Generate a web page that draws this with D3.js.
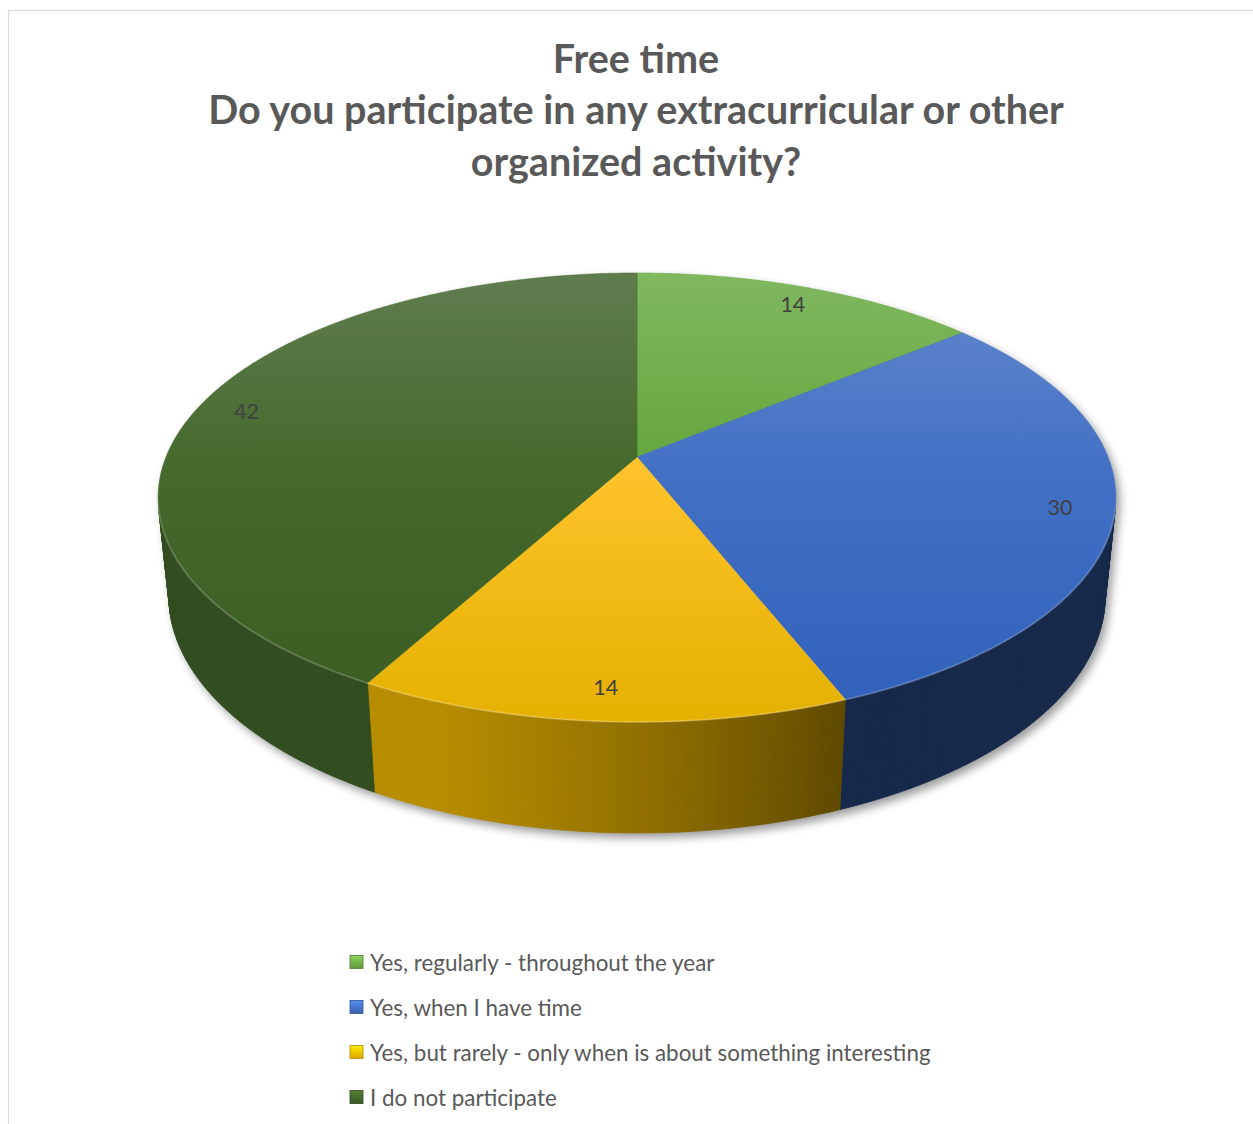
<!DOCTYPE html>
<html>
<head>
<meta charset="utf-8">
<script src="https://cdn.jsdelivr.net/npm/d3@7"></script>
<style>
  body { margin: 0; background: #fff; }
  svg { display: block; }
</style>
</head>
<body>
<script>
// ---- data ----
const titleLines = [
  "Free time",
  "Do you participate in any extracurricular or other",
  "organized activity?"
];
const categories = [
  "Yes, regularly - throughout the year",
  "Yes, when I have time",
  "Yes, but rarely - only when is about something interesting",
  "I do not participate"
];
const values = [14, 30, 14, 42];

// ---- colours (top face gradient, side wall base, legend key) ----
const topLight = ["#80b860", "#6488cc", "#ffd04a", "#607d50"];
const topMid   = ["#64a53b", "#4270c5", "#fdc22a", "#44692b"];
const topDark  = ["#5a9a31", "#3060ba", "#e4b100", "#3a5c21"];
const wallBase = ["#6aa842", "#3a6bc4", "#f5bd00", "#42672a"];
const keyColors = ["#70ad47", "#4472c4", "#ffc000", "#43682b"];

const W = 1253, H = 1124;
const svg = d3.select("body").append("svg").attr("width", W).attr("height", H);
const defs = svg.append("defs");

// chart area frame
svg.append("rect")
  .attr("x", 8.5).attr("y", 10.5).attr("width", 1400).attr("height", 1400)
  .attr("fill", "#fff").attr("stroke", "#d9d9d9").attr("stroke-width", 1.2);

// ---- title ----
const title = svg.append("text")
  .attr("text-anchor", "middle")
  .attr("font-family", "Lato, 'Open Sans', sans-serif")
  .attr("font-weight", "bold")
  .attr("font-size", 39.5)
  .attr("fill", "#595959");
titleLines.forEach((t, i) => {
  title.append("tspan").attr("x", 636).attr("y", 57 + i * 51.5)
    .attr("dominant-baseline", "central").text(t);
});

// ---- 3D perspective camera for the pie disc (unit radius) ----
const cx = 637, cy = 457;          // projected disc centre
const F = 2318, D = 4.921;         // focal length, camera distance
const sinE = 0.4611, cosE = 0.8873; // elevation of the view
const thickness = 0.2378;          // disc height

function project(a, r, y) {
  const X = r * Math.sin(a), Z = -r * Math.cos(a);
  const yp = y * cosE - Z * sinE;
  const w = D - Z * cosE - y * sinE;
  return [cx + F * X / w, cy - F * yp / w];
}

const arcs = d3.pie().sort(null).value(d => d)(values);
const step = Math.PI / 720;
const wallStep = Math.PI / 360;

// side wall is visible where the outward normal faces the camera
const aMin = Math.acos(-1 / (D * cosE));
const aMax = 2 * Math.PI - aMin;

// ---- soft drop shadow beneath the solid ----
const blur = defs.append("filter").attr("id", "soft")
  .attr("x", "-10%").attr("y", "-10%").attr("width", "120%").attr("height", "130%");
blur.append("feGaussianBlur").attr("stdDeviation", 5);

const outline = [];
for (let a = aMax; a <= 2 * Math.PI + aMin; a += step) outline.push(project(a, 1, 0));
for (let a = aMin; a <= aMax; a += step) outline.push(project(a, 1, -thickness));
svg.append("path")
  .attr("d", d3.line()(outline) + "Z")
  .attr("fill", "#000").attr("opacity", 0.4)
  .attr("transform", "translate(4,5)")
  .attr("filter", "url(#soft)");

// ---- side walls, shaded by a light coming from the front-left ----
function shade(a) {
  const dot = -0.8 * Math.sin(a) - 0.6 * Math.cos(a);
  const t = Math.max(0, Math.min(1, (dot - 0.25) / 0.6));
  return 0.38 + 0.37 * t;
}
const wallG = svg.append("g");
arcs.forEach((d, i) => {
  const s = Math.max(d.startAngle, aMin), e = Math.min(d.endAngle, aMax);
  if (e <= s) return;
  const base = d3.rgb(wallBase[i]);
  for (let a = s; a < e; a += wallStep) {
    const b = Math.min(a + wallStep, e);
    const f = shade((a + b) / 2);
    const c = d3.rgb(base.r * f, base.g * f, base.b * f).formatHex();
    const pts = [project(a, 1, 0), project(b, 1, 0), project(b, 1, -thickness), project(a, 1, -thickness)];
    wallG.append("path").attr("d", d3.line()(pts) + "Z")
      .attr("fill", c).attr("stroke", c).attr("stroke-width", 0.8);
  }
});

// ---- top face ----
const yTop = project(0, 1, 0)[1], yBottom = project(Math.PI, 1, 0)[1];
arcs.forEach((d, i) => {
  const g = defs.append("linearGradient").attr("id", "top" + i)
    .attr("gradientUnits", "userSpaceOnUse")
    .attr("x1", 0).attr("x2", 0).attr("y1", yTop).attr("y2", yBottom);
  g.append("stop").attr("offset", 0).attr("stop-color", topLight[i]);
  g.append("stop").attr("offset", 0.45).attr("stop-color", topMid[i]);
  g.append("stop").attr("offset", 1).attr("stop-color", topDark[i]);
});
const topG = svg.append("g");
arcs.forEach((d, i) => {
  const pts = [project(0, 0, 0)];
  for (let a = d.startAngle; a < d.endAngle; a += step) pts.push(project(a, 1, 0));
  pts.push(project(d.endAngle, 1, 0));
  topG.append("path").attr("d", d3.line()(pts) + "Z")
    .attr("fill", `url(#top${i})`)
    .attr("stroke", topMid[i]).attr("stroke-width", 0.5);
});

// light rim along the front edge of the top face
const rim = [];
for (let a = aMin; a <= aMax; a += step) rim.push(project(a, 1, 0));
svg.append("path").attr("d", d3.line()(rim))
  .attr("fill", "none").attr("stroke", "#fff").attr("stroke-opacity", 0.18).attr("stroke-width", 2);

// ---- data labels ----
svg.append("g").selectAll("text").data(arcs).join("text")
  .attr("x", d => project((d.startAngle + d.endAngle) / 2, 0.89, 0)[0])
  .attr("y", d => project((d.startAngle + d.endAngle) / 2, 0.89, 0)[1])
  .attr("text-anchor", "middle").attr("dominant-baseline", "central")
  .attr("font-family", "Lato, 'Open Sans', sans-serif")
  .attr("font-size", 21.5).attr("fill", "#404040")
  .text(d => d.data);

// ---- legend ----
const keyGrads = keyColors.map((c, i) => {
  const g = defs.append("linearGradient").attr("id", "key" + i)
    .attr("x1", 0).attr("x2", 0).attr("y1", 0).attr("y2", 1);
  g.append("stop").attr("offset", 0).attr("stop-color", d3.rgb(c).brighter(0.6));
  g.append("stop").attr("offset", 1).attr("stop-color", d3.rgb(c).darker(0.4));
  return `url(#key${i})`;
});
const legend = svg.append("g");
const rows = legend.selectAll("g").data(categories).join("g")
  .attr("transform", (d, i) => `translate(350,${962 + i * 45})`);
rows.append("rect")
  .attr("x", 0).attr("y", -6.5).attr("width", 13).attr("height", 13)
  .attr("fill", (d, i) => keyGrads[i])
  .attr("stroke", (d, i) => d3.rgb(keyColors[i]).darker(1)).attr("stroke-width", 0.8);
rows.append("text")
  .attr("x", 20).attr("y", 0).attr("dominant-baseline", "central")
  .attr("font-family", "Lato, 'Open Sans', sans-serif")
  .attr("font-size", 22.4).attr("fill", "#595959")
  .text(d => d);
</script>
</body>
</html>
